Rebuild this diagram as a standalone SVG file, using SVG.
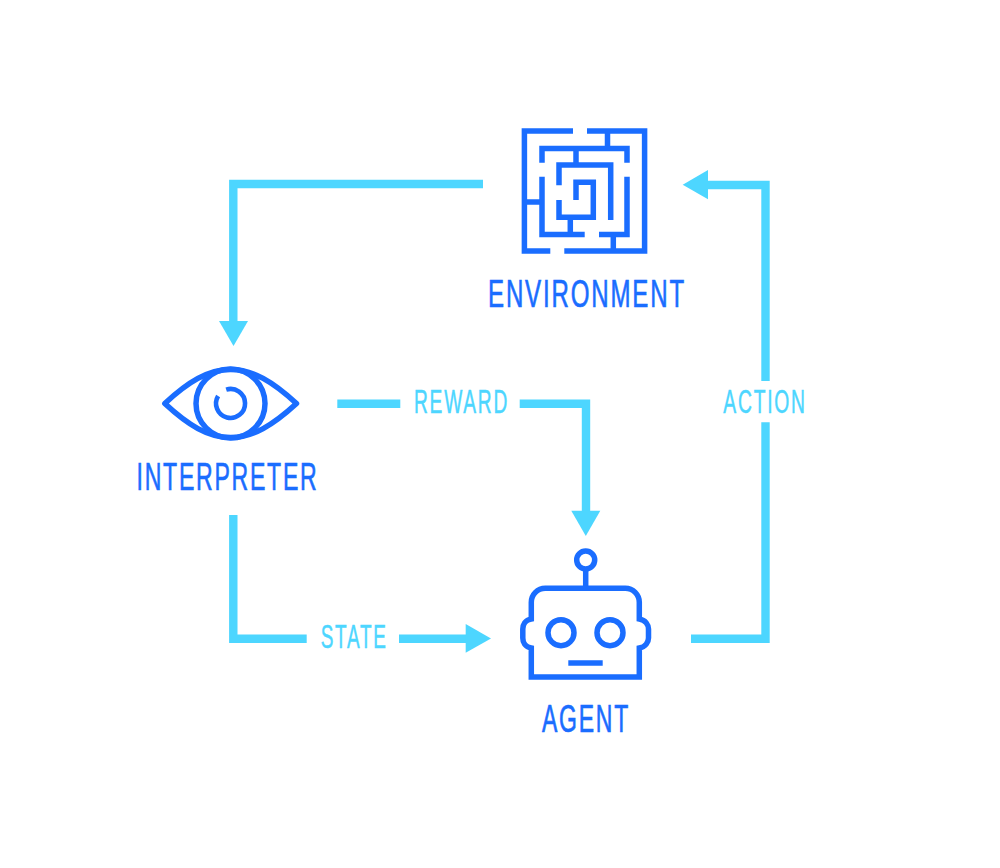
<svg xmlns="http://www.w3.org/2000/svg" width="1000" height="868" viewBox="0 0 1000 868">
<style>
.ic{fill:none;stroke:#1a6dff;stroke-width:5.5}
.ey{stroke-linejoin:round;stroke-linecap:round}
.cn{fill:none;stroke:#4dd6ff;stroke-width:8.4}
.ah{fill:#4dd6ff}
text{font-family:"Liberation Sans",Arial,sans-serif;letter-spacing:3px}
.nl{fill:#1a6dff;stroke:#1a6dff;stroke-width:.7;font-size:39.5px}
.el{fill:#4dd6ff;stroke:#4dd6ff;stroke-width:.5;font-size:33px}
</style>
<rect width="1000" height="868" fill="#fff"/>
<g id="connectors">
<path class="cn" d="M483 184H233.3V322"/>
<polygon class="ah" points="219,321 248,321 233.5,346"/>
<path class="cn" d="M337.3 403.7H400.3M519.7 403.7H586V512"/>
<polygon class="ah" points="571.3,510.7 600.3,510.7 585.8,536"/>
<path class="cn" d="M233.3 515V638.8H306.7M399 638.8H467"/>
<polygon class="ah" points="465.7,624 465.7,652.7 491,638.4"/>
<path class="cn" d="M691 638.8H765.5V422.3M765.5 381V185H707"/>
<polygon class="ah" points="708,170 708,199.3 682.7,184.7"/>
</g>
<g id="reward-label"><text class="el" x="414" y="412.7" textLength="95" lengthAdjust="spacingAndGlyphs">REWARD</text></g>
<g id="state-label"><text class="el" x="320.7" y="648" textLength="67" lengthAdjust="spacingAndGlyphs">STATE</text></g>
<g id="action-label"><text class="el" x="723.3" y="413" textLength="83.5" lengthAdjust="spacingAndGlyphs">ACTION</text></g>
<g id="environment">
<path class="ic" d="M573 131H524.4V251H550.3M587 131H644.6V251H564.3M607.5 131V148.5M542 162.7V148.5H627V162.7M576 148.5V165M542 176.7V234.5H584.7M627 176.7V234.5H599M613.3 234.5V251M524.4 202H542M559 185.3V165H610.7V220M576 200V182.3H593.3V217.3H559V200M570.3 217.3V234.5"/>
<text class="nl" x="488" y="307" textLength="198" lengthAdjust="spacingAndGlyphs">ENVIRONMENT</text>
</g>
<g id="interpreter">
<path class="ic ey" d="M164.8 403.5C188 382 208 369.5 230.5 369.5C253 369.5 273 382 296.5 403.5C273 425 253 437.5 230.5 437.5C208 437.5 188 425 164.8 403.5Z"/>
<circle class="ic" cx="230.5" cy="403.5" r="34.5"/>
<path class="ic" style="stroke-width:4.6" d="M226.2 389.6A14.5 14.5 0 1 1 218.1 396"/>
<text class="nl" x="136.5" y="490" textLength="182" lengthAdjust="spacingAndGlyphs">INTERPRETER</text>
</g>
<g id="agent">
<circle class="ic" cx="585.7" cy="560" r="9"/>
<path class="ic" d="M585.7 569V588.3"/>
<path class="ic" d="M531.3 619V602.3A14 14 0 0 1 545.3 588.3H625.3A14 14 0 0 1 639.3 602.3V619C645.6 620 648.5 625 648.5 629V638C648.5 642 645.6 647 639.3 648V677H531.3V648C525 647 522.8 642 522.8 638V629C522.8 625 525 620 531.3 619Z"/>
<circle class="ic" cx="561" cy="632.7" r="13"/>
<circle class="ic" cx="610" cy="632.7" r="13"/>
<path class="ic" d="M568.3 663H602.7"/>
<text class="nl" x="542" y="731.7" textLength="88" lengthAdjust="spacingAndGlyphs">AGENT</text>
</g>
</svg>
